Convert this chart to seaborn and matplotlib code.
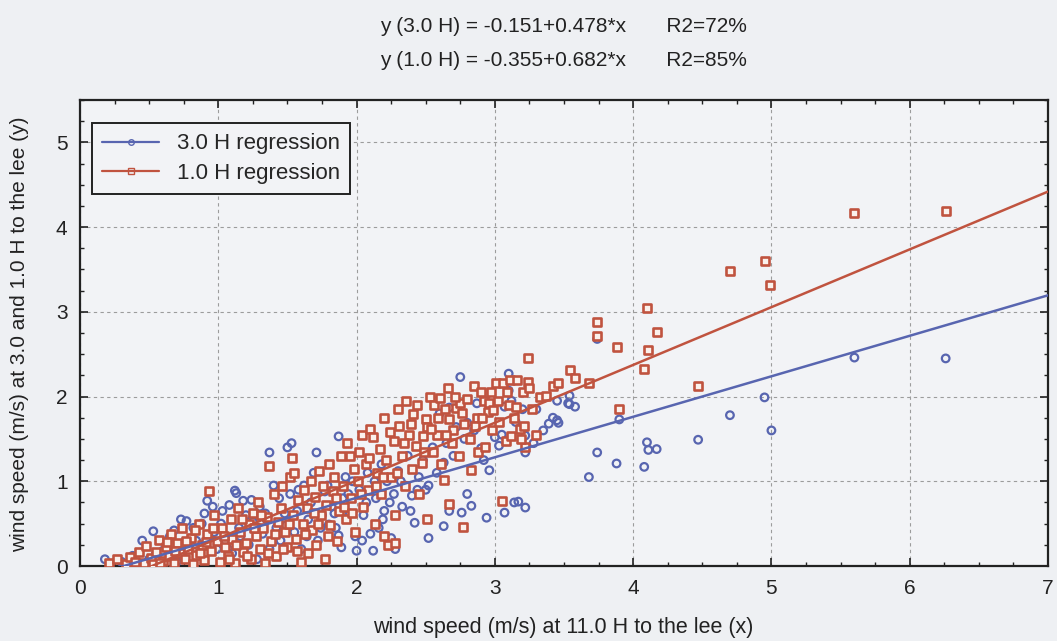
import matplotlib
matplotlib.use('Agg')
import matplotlib.pyplot as plt
import seaborn as sns
import pandas as pd
from matplotlib.lines import Line2D
from matplotlib.ticker import MultipleLocator

# points: (x = wind speed at 11.0 H, y = wind speed at 3.0 H)
pts_3h = [
    (0.18, 0.08), (0.30, 0.05), (0.38, 0.12), (0.45, 0.30), (0.50, 0.08), (0.53, 0.41),
    (0.60, 0.18), (0.65, 0.35), (0.70, 0.05), (0.73, 0.55), (0.77, 0.53), (0.78, 0.25),
    (0.82, 0.45), (0.86, 0.12), (0.90, 0.62), (0.92, 0.77), (0.93, 0.35), (0.96, 0.70),
    (0.99, 0.20), (1.02, 0.50), (1.05, 0.30), (1.08, 0.72), (1.10, 0.15), (1.12, 0.89),
    (1.13, 0.86), (1.15, 0.45), (1.18, 0.77), (1.20, 0.60), (1.22, 0.25), (1.25, 0.52),
    (1.28, 0.08), (1.30, 0.70), (1.32, 0.38), (1.35, 0.55), (1.37, 1.34), (1.37, 0.20),
    (1.40, 0.95), (1.42, 0.45), (1.45, 0.30), (1.48, 0.62), (1.50, 1.40), (1.53, 1.45),
    (1.52, 0.85), (1.55, 0.40), (1.57, 0.65), (1.60, 0.20), (1.62, 0.95), (1.65, 0.55),
    (1.67, 0.75), (1.71, 1.34), (1.72, 0.30), (1.75, 0.60), (1.77, 0.88), (1.80, 0.49),
    (1.82, 0.70), (1.85, 0.45), (1.87, 1.53), (1.87, 0.36), (1.89, 0.22), (1.90, 0.80),
    (1.92, 1.05), (1.95, 0.62), (1.97, 1.00), (1.99, 0.35), (2.00, 0.18), (2.02, 0.90),
    (2.05, 0.60), (2.08, 1.10), (2.10, 0.38), (2.12, 0.18), (2.14, 0.80), (2.16, 0.45),
    (2.18, 1.20), (2.20, 0.65), (2.22, 1.00), (2.25, 0.33), (2.27, 0.85), (2.28, 0.20),
    (2.30, 1.12), (2.33, 0.70), (2.35, 0.95), (2.37, 1.30), (2.40, 0.83), (2.42, 0.51),
    (2.45, 1.05), (2.48, 1.25), (2.50, 0.90), (2.52, 0.95), (2.52, 0.33), (2.55, 1.40),
    (2.60, 1.80), (2.63, 1.22), (2.63, 0.47), (2.67, 1.87), (2.67, 0.65), (2.70, 1.30),
    (2.72, 1.64), (2.75, 2.23), (2.76, 0.63), (2.78, 1.50), (2.80, 1.69), (2.80, 0.85),
    (2.83, 0.71), (2.87, 1.92), (2.90, 1.39), (2.94, 0.57), (2.96, 1.13), (3.00, 1.52),
    (3.03, 1.42), (3.05, 1.55), (3.07, 1.88), (3.07, 0.63), (3.10, 2.27), (3.10, 2.07),
    (3.12, 1.95), (3.14, 0.75), (3.17, 0.76), (3.20, 1.85), (3.22, 1.54), (3.22, 1.34),
    (3.22, 0.69), (3.28, 1.45), (3.35, 1.60), (3.39, 1.68), (3.42, 1.75), (3.45, 1.72),
    (3.46, 1.69), (3.53, 1.92), (3.54, 2.01), (3.54, 1.91), (3.58, 1.88), (3.68, 1.05),
    (3.74, 2.68), (3.74, 1.34), (3.88, 1.21), (3.90, 1.73), (4.08, 1.17), (4.10, 1.46),
    (4.11, 1.37), (4.17, 1.38), (4.47, 1.49), (4.70, 1.78), (4.95, 1.99), (5.00, 1.60),
    (5.60, 2.46), (6.26, 2.45),
    (0.55, 0.15), (0.62, 0.28), (0.68, 0.42), (0.75, 0.18), (0.84, 0.30), (0.88, 0.50),
    (0.97, 0.40), (1.03, 0.65), (1.07, 0.20), (1.16, 0.35), (1.24, 0.78), (1.29, 0.45),
    (1.34, 0.62), (1.39, 0.28), (1.44, 0.80), (1.49, 0.48), (1.58, 0.90), (1.64, 0.35),
    (1.69, 1.10), (1.74, 0.45), (1.79, 0.95), (1.84, 0.62), (1.94, 0.85), (2.04, 0.30),
    (2.07, 0.75), (2.13, 1.00), (2.19, 0.55), (2.24, 0.75), (2.32, 1.00), (2.39, 0.65),
    (2.44, 0.90), (2.58, 1.10), (2.65, 1.45), (2.85, 1.60), (2.92, 1.25), (3.15, 1.70),
    (3.30, 1.85), (3.45, 1.95),
]

# points: (x = wind speed at 11.0 H, y = wind speed at 1.0 H)
pts_1h = [
    (0.21, 0.03), (0.27, 0.08), (0.33, 0.02), (0.36, 0.11), (0.40, 0.05), (0.43, 0.16),
    (0.46, 0.03), (0.48, 0.24), (0.51, 0.09), (0.53, 0.02), (0.55, 0.17), (0.57, 0.31),
    (0.60, 0.06), (0.62, 0.22), (0.64, 0.12), (0.66, 0.38), (0.68, 0.03), (0.70, 0.27),
    (0.72, 0.15), (0.74, 0.45), (0.76, 0.08), (0.78, 0.20), (0.80, 0.33), (0.82, 0.02),
    (0.84, 0.13), (0.86, 0.50), (0.88, 0.25), (0.90, 0.07), (0.92, 0.38), (0.93, 0.89),
    (0.95, 0.18), (0.97, 0.60), (0.99, 0.30), (1.01, 0.05), (1.03, 0.45), (1.05, 0.22),
    (1.07, 0.12), (1.09, 0.55), (1.10, 0.32), (1.12, 0.03), (1.14, 0.68), (1.16, 0.40),
    (1.18, 0.17), (1.20, 0.27), (1.22, 0.50), (1.24, 0.08), (1.25, 0.62), (1.27, 0.35),
    (1.29, 0.75), (1.30, 0.20), (1.32, 0.45), (1.34, 0.03), (1.35, 0.58), (1.37, 1.18),
    (1.38, 0.30), (1.40, 0.85), (1.42, 0.12), (1.43, 0.52), (1.45, 0.68), (1.46, 0.95),
    (1.48, 0.40), (1.50, 0.22), (1.52, 1.05), (1.53, 1.28), (1.54, 0.60), (1.55, 1.10),
    (1.56, 0.32), (1.58, 0.78), (1.60, 0.05), (1.61, 0.50), (1.62, 0.90), (1.64, 0.68),
    (1.65, 0.15), (1.67, 1.00), (1.68, 0.42), (1.70, 0.82), (1.71, 0.25), (1.73, 1.12),
    (1.74, 0.60), (1.76, 0.95), (1.77, 0.08), (1.78, 0.72), (1.80, 1.20), (1.81, 0.48),
    (1.83, 0.88), (1.84, 1.05), (1.86, 0.30), (1.87, 0.65), (1.89, 1.30), (1.90, 0.95),
    (1.92, 0.55), (1.93, 1.45), (1.95, 1.30), (1.96, 0.80), (1.98, 1.15), (1.99, 0.40),
    (2.01, 1.00), (2.02, 1.34), (2.04, 1.55), (2.05, 0.70), (2.07, 1.20), (2.08, 0.90),
    (2.10, 1.62), (2.12, 1.52), (2.13, 0.50), (2.15, 1.10), (2.17, 1.38), (2.18, 0.85),
    (2.20, 1.75), (2.20, 0.35), (2.21, 1.25), (2.23, 0.25), (2.25, 1.05), (2.27, 1.48),
    (2.28, 0.60), (2.28, 0.27), (2.30, 1.85), (2.31, 1.65), (2.33, 1.30), (2.35, 0.95),
    (2.36, 1.95), (2.38, 1.55), (2.40, 1.15), (2.41, 1.79), (2.43, 1.42), (2.45, 0.85),
    (2.47, 1.22), (2.48, 1.54), (2.50, 1.73), (2.51, 1.64), (2.51, 0.56), (2.53, 2.00),
    (2.55, 1.35), (2.56, 1.90), (2.58, 1.55), (2.59, 1.75), (2.61, 1.20), (2.63, 1.01),
    (2.64, 1.85), (2.66, 2.10), (2.67, 1.74), (2.67, 0.73), (2.69, 1.45), (2.70, 1.60),
    (2.72, 1.86), (2.74, 1.30), (2.75, 1.92), (2.77, 0.46), (2.78, 1.68), (2.80, 1.97),
    (2.82, 1.50), (2.83, 1.13), (2.85, 2.12), (2.87, 1.75), (2.88, 1.35), (2.90, 2.05),
    (2.92, 1.95), (2.93, 1.40), (2.95, 1.82), (2.96, 1.92), (2.98, 1.60), (2.99, 1.84),
    (3.01, 2.16), (3.03, 1.70), (3.05, 0.77), (3.06, 2.16), (3.08, 1.48), (3.10, 1.90),
    (3.11, 2.19), (3.12, 1.54), (3.14, 1.75), (3.16, 2.19), (3.18, 1.62), (3.20, 2.05),
    (3.21, 1.65), (3.22, 1.40), (3.24, 2.46), (3.24, 2.17), (3.25, 2.10), (3.27, 1.85),
    (3.30, 1.55), (3.33, 2.00), (3.37, 2.01), (3.42, 2.12), (3.46, 2.16), (3.54, 2.31),
    (3.58, 2.22), (3.68, 2.16), (3.74, 2.88), (3.74, 2.71), (3.88, 2.59), (3.90, 1.85),
    (4.08, 2.33), (4.10, 3.05), (4.11, 2.55), (4.17, 2.76), (4.47, 2.13), (4.70, 3.48),
    (4.95, 3.60), (4.99, 3.32), (5.60, 4.17), (6.26, 4.19),
    (0.58, 0.04), (0.63, 0.28), (0.69, 0.18), (0.77, 0.30), (0.83, 0.42), (0.87, 0.15),
    (0.91, 0.28), (0.96, 0.45), (1.04, 0.35), (1.08, 0.08), (1.13, 0.25), (1.17, 0.55),
    (1.21, 0.12), (1.26, 0.45), (1.31, 0.60), (1.36, 0.15), (1.41, 0.38), (1.47, 0.20),
    (1.51, 0.50), (1.57, 0.18), (1.63, 0.38), (1.69, 0.62), (1.72, 0.50), (1.79, 0.35),
    (1.85, 0.80), (1.91, 0.70), (1.97, 0.62), (2.03, 0.85), (2.09, 1.28), (2.14, 0.95),
    (2.19, 1.05), (2.24, 1.58), (2.29, 1.10), (2.34, 1.45), (2.39, 1.68), (2.44, 1.90),
    (2.49, 1.35), (2.54, 1.62), (2.60, 1.98), (2.65, 1.55), (2.71, 2.00), (2.76, 1.80),
    (2.86, 1.65), (2.91, 1.75), (2.97, 2.05), (3.02, 1.95), (3.09, 2.05), (3.15, 1.88),
    (3.19, 1.50),
]

# regression coefficients printed above the plot (intercept, slope)
coef_3h = (-0.151, 0.478)
coef_1h = (-0.355, 0.682)
line_x = [0, 7]

df3 = pd.DataFrame(pts_3h, columns=['x', 'y'])
df1 = pd.DataFrame(pts_1h, columns=['x', 'y'])
lines = pd.DataFrame({
    'x': line_x,
    'y3': [coef_3h[0] + coef_3h[1] * v for v in line_x],
    'y1': [coef_1h[0] + coef_1h[1] * v for v in line_x],
})

blue = '#5865b0'
red = '#c0533f'
bg = '#eef0f3'
ink = '#222222'

sns.set_style('ticks')
plt.rcParams['font.family'] = ['Liberation Sans', 'DejaVu Sans']

fig = plt.figure(figsize=(10.57, 6.41), dpi=100, facecolor=bg)
ax = fig.add_axes([80 / 1057, 1 - 566 / 641, 968 / 1057, 466 / 641])
ax.set_facecolor('#f2f3f6')

sns.scatterplot(data=df3, x='x', y='y', ax=ax, marker='o', s=30,
                facecolors='none', edgecolor=blue, linewidth=1.6, zorder=3)
sns.scatterplot(data=df1, x='x', y='y', ax=ax, marker='s', s=38,
                facecolors='#fbf1ec', edgecolor=red, linewidth=1.9, zorder=4)
sns.lineplot(data=lines, x='x', y='y3', ax=ax, color=blue, lw=1.8, zorder=5)
sns.lineplot(data=lines, x='x', y='y1', ax=ax, color=red, lw=1.8, zorder=5)

ax.set_xlim(0, 7)
ax.set_ylim(0, 5.5)
ax.xaxis.set_major_locator(MultipleLocator(1))
ax.xaxis.set_minor_locator(MultipleLocator(0.25))
ax.yaxis.set_major_locator(MultipleLocator(1))
ax.yaxis.set_minor_locator(MultipleLocator(0.25))
ax.tick_params(which='both', direction='in', top=True, right=True, color=ink)
ax.tick_params(which='major', length=6, width=1.2, labelsize=15, pad=9,
               labelcolor=ink)
ax.tick_params(which='minor', length=3, width=1.0)
ax.grid(True, which='major', ls=(0, (3, 3)), color='#9c9c9c', lw=0.8)
for sp in ax.spines.values():
    sp.set_linewidth(1.6)
    sp.set_color(ink)
ax.set_xlabel('')
ax.set_ylabel('')

fig.text(0.533, 1 - 27 / 641, 'y (3.0 H) = -0.151+0.478*x       R2=72%',
         ha='center', va='center', fontsize=15, color=ink)
fig.text(0.533, 1 - 60 / 641, 'y (1.0 H) = -0.355+0.682*x       R2=85%',
         ha='center', va='center', fontsize=15, color=ink)
fig.text(0.533, 1 - 628 / 641, 'wind speed (m/s) at 11.0 H to the lee (x)',
         ha='center', va='center', fontsize=15.5, color=ink)
fig.text(20 / 1057, 1 - 334 / 641, 'wind speed (m/s) at 3.0 and 1.0 H to the lee (y)',
         ha='center', va='center', rotation=90, fontsize=15, color=ink)

handles = [
    Line2D([], [], color=blue, lw=1.6, marker='o', ms=4, mfc='none', mec=blue),
    Line2D([], [], color=red, lw=1.6, marker='s', ms=4, mfc='none', mec=red),
]
leg = ax.legend(handles, ['3.0 H regression', '1.0 H regression'], loc='upper left',
                bbox_to_anchor=(0.012, 0.95), fontsize=16, handlelength=2.6,
                frameon=True, fancybox=False, framealpha=1, edgecolor=ink,
                facecolor='#f2f3f6', borderpad=0.45, labelspacing=0.4,
                borderaxespad=0, handletextpad=0.8)
leg.get_frame().set_linewidth(1.4)

fig.savefig('out.png', dpi=100, facecolor=bg)
